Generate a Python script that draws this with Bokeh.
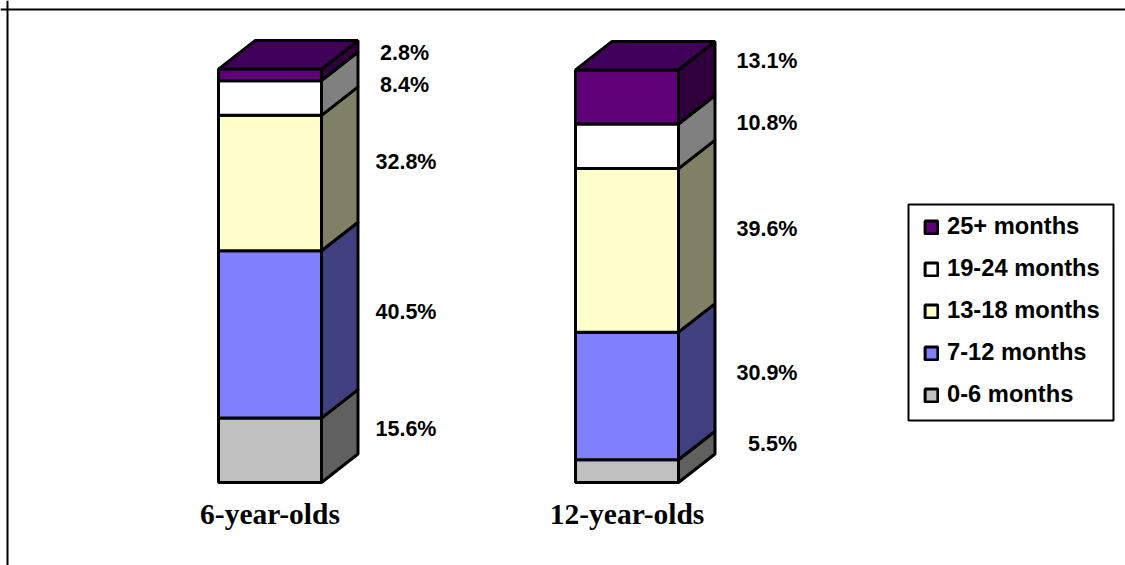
from bokeh.plotting import figure
from bokeh.models import ColumnDataSource, Legend, LegendItem, Span, BoxAnnotation
from bokeh.core.properties import value
from bokeh.embed import file_html
from bokeh.resources import INLINE

categories = ["6-year-olds", "12-year-olds"]
series_names = ["0-6 months", "7-12 months", "13-18 months", "19-24 months", "25+ months"]
six_year_olds = [15.6, 40.5, 32.8, 8.4, 2.8]
twelve_year_olds = [5.5, 30.9, 39.6, 10.8, 13.1]
values_by_category = [six_year_olds, twelve_year_olds]

front_colors = ["#C0C0C0", "#8080FF", "#FFFFCC", "#FFFFFF", "#600078"]
side_colors = ["#606060", "#404080", "#808066", "#808080", "#30003C"]
top_color = "#40005A"

W, H = 1125, 565
PX_X = 357.0          # pixels per category step
PX_Y = 4.13           # pixels per percentage point
X0 = 269.5            # pixel of category 0
Y0 = 482              # pixel of value 0
half_w = 51.5 / PX_X
dx = 36.5 / PX_X
dy = 28.5 / PX_Y

def data_x(px):
    return (px - X0) / PX_X

def data_y(px):
    return (Y0 - px) / PX_Y

label_dx = [[136, 136, 136, 134.5, 134.5], [145.5, 140, 140, 140, 140]]
label_dy = [[-21, -22, -21, -13, -22], [-27, -23, -21, -23, -36]]

p = figure(width=W, height=H, output_backend="svg", toolbar_location=None,
           x_range=(data_x(0), data_x(W)), y_range=(data_y(H), data_y(0)),
           min_border=0, outline_line_color=None,
           background_fill_color="white", border_fill_color="white")
p.axis.visible = False
p.grid.visible = False

p.add_layout(Span(location=data_y(9), dimension="width", line_color="black", line_width=2))
p.add_layout(Span(location=data_x(7), dimension="height", line_color="black", line_width=2))

lw = 3
legend_items = []
tx, ty, tt, txo, tyo = [], [], [], [], []
for s, name in enumerate(series_names):
    fx, fy, sx, sy = [], [], [], []
    for c, vals in enumerate(values_by_category):
        lo = sum(vals[:s])
        hi = lo + vals[s]
        l, r = c - half_w, c + half_w
        fx.append([l, r, r, l])
        fy.append([lo, lo, hi, hi])
        sx.append([r, r + dx, r + dx, r])
        sy.append([lo, lo + dy, hi + dy, hi])
        tx.append(c)
        ty.append((lo + hi) / 2)
        tt.append(f"{vals[s]:.1f}%")
        txo.append(label_dx[c][s])
        tyo.append(label_dy[c][s])
    p.patches(sx, sy, fill_color=side_colors[s], line_color="black", line_width=lw)
    r = p.patches(fx, fy, fill_color=front_colors[s], line_color="black", line_width=lw)
    legend_items.append(LegendItem(label=name, renderers=[r]))

top_x, top_y = [], []
for c, vals in enumerate(values_by_category):
    t = sum(vals)
    l, r = c - half_w, c + half_w
    top_x.append([l, r, r + dx, l + dx])
    top_y.append([t, t, t + dy, t + dy])
p.patches(top_x, top_y, fill_color=top_color, line_color="black", line_width=lw)

src = ColumnDataSource(dict(x=tx, y=ty, t=tt, xo=txo, yo=tyo))
p.text("x", "y", text="t", x_offset="xo", y_offset="yo", source=src,
       text_font=value("Liberation Sans"), text_font_style="bold",
       text_font_size="21.5px", text_align="center", text_baseline="middle", text_color="black")

cat_src = ColumnDataSource(dict(x=list(range(len(categories))), t=categories))
p.text("x", value(0), text="t", y_offset=value(31), source=cat_src,
       text_font=value("Liberation Serif"), text_font_style="bold",
       text_font_size="29.5px", text_align="center", text_baseline="middle", text_color="black")

p.add_layout(BoxAnnotation(left=data_x(908), right=data_x(1113), top=data_y(204), bottom=data_y(420),
                           fill_color="white", fill_alpha=1, line_color="black", line_alpha=1, line_width=2))

legend = Legend(items=legend_items[::-1], location=(923, 157), orientation="vertical",
                border_line_color=None, background_fill_alpha=0,
                label_text_font="Liberation Sans", label_text_font_style="bold",
                label_text_font_size="23.7px", label_text_color="black",
                glyph_width=16, glyph_height=16, label_standoff=8, spacing=15,
                label_height=22, padding=0, margin=0)
p.add_layout(legend, "center")

open("out.html", "w").write(file_html(p, INLINE))
